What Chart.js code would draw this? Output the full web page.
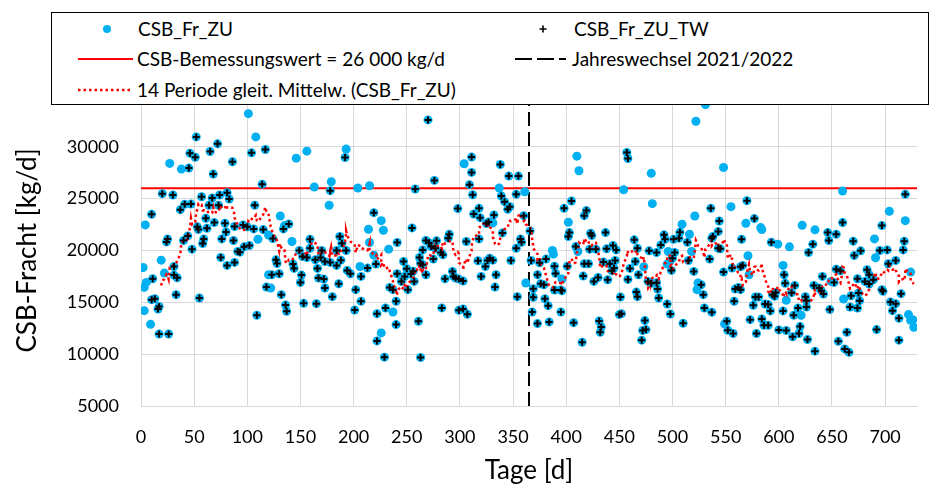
<!DOCTYPE html>
<html>
<head>
<meta charset="utf-8">
<script src="https://cdn.jsdelivr.net/npm/chart.js@4.4.1/dist/chart.umd.min.js"></script>
<style>
  html, body { margin: 0; padding: 0; background: #fff; }
  #wrap { position: relative; width: 936px; height: 493px; }
  #legend { position: absolute; left: 51px; top: 12px; width: 878px; height: 93px; box-sizing: border-box;
            border: 1px solid #000; background: #fff; font-family: Lato, sans-serif; font-size: 19px; color: #000; }
  .lg { position: absolute; white-space: nowrap; line-height: 22px; transform: translateY(-50%); }
  .sym { position: absolute; transform: translateY(-50%); }
</style>
</head>
<body>
<div id="wrap">
  <canvas id="chart" width="936" height="493"></canvas>
  <div id="legend">
    <svg class="sym" style="left:49px;top:16px" width="12" height="12"><circle cx="6" cy="6" r="4" fill="#00B0F0"/></svg>
    <span class="lg" style="left:86px;top:16px">CSB_Fr_ZU</span>
    <svg class="sym" style="left:486px;top:16px" width="10" height="10"><path d="M5 1.5V8.5M1.5 5H8.5" stroke="#000" stroke-width="1.6"/></svg>
    <span class="lg" style="left:522px;top:16px">CSB_Fr_ZU_TW</span>

    <svg class="sym" style="left:26px;top:46px" width="56" height="4"><line x1="0" y1="2" x2="55" y2="2" stroke="#ff0000" stroke-width="2"/></svg>
    <span class="lg" style="left:85px;top:46px">CSB-Bemessungswert = 26 000 kg/d</span>
    <svg class="sym" style="left:463px;top:46px" width="56" height="4"><line x1="0" y1="2" x2="54" y2="2" stroke="#000" stroke-width="2" stroke-dasharray="17 5 17 5 7"/></svg>
    <span class="lg" style="left:520px;top:46px">Jahreswechsel 2021/2022</span>

    <svg class="sym" style="left:26px;top:77px" width="56" height="4"><line x1="0" y1="2" x2="55" y2="2" stroke="#ff0000" stroke-width="2.5" stroke-dasharray="2.5 3"/></svg>
    <span class="lg" style="left:85px;top:77px">14 Periode gleit. Mittelw. (CSB_Fr_ZU)</span>
  </div>
</div>
<script>
// Tage, CSB-Fracht Zulauf [kg/d], Trockenwetter-Tag (1 = Teil von CSB_Fr_ZU_TW)
const tage = [
  101,108,117,104,114,52,72,65,46,51, 86,27,38,45,68,20,30,57,67,74, 81,83,41,47,37,64,73,107,10,4,
  61,69,79,53,54,62,88,96,100,106, 115,80,44,40,25,24,59,58,76,87, 110,102,97,91,93,48,75,88,81,19,
  2,31,22,31,34,11,5,3,118,120, 33,55,10,13,17,16,3,9,17,26, 109,120,
  146,156,193,192,163,179,178,177,204,215, 219,131,139,135,134,226,228,214,124,142,
  159,187,189,215,233,219,149,159,170,184, 193,127,128,152,156,164,169,173,178,184,
  188,143,144,166,206,194,197,207,213,221, 123,130,151,167,172,150,186,122,173,202,
  234,132,180,136,137,153,165,207,201,222, 230,237,226,222,229,241,241,237,240,240,
  270,304,311,311,276,309,312,258,338,346, 355,337,339,342,353,361,345,347,298,318,
  313,319,325,327,331,332,360,255,340,290, 289,268,278,271,273,277,265,282,284,306,
  318,357,358,353,262,263,247,250,248,254, 256,251,257,245,265,268,275,293,294,296,
  299,303,286,317,324,328,326,331,320,334, 333,348,354,362,283,299,303,307,261,263,
  366,410,412,457,458,480,454,481,405,398, 419,417,402,403,402,423,424,437,409,411,
  387,388,422,428,438,444,447,464,467,478, 485,367,375,381,389,401,417,421,435,441,
  446,445,443,439,430,426,416,465,473,460, 458,468,477,480,485,373,376,379,390,396,
  389,395,396,369,369,380,383,368,373,384, 395,407,415,431,433,432,451,450,452,466,
  467,474,475,472,471,
  531,522,548,570,555,536,521,509,577,569, 583,584,544,543,537,538,565,593,599,516,
  507,506,501,492,493,489,514,543,545,518, 515,502,500,496,498,499,520,535,548,556,
  564,566,571,572,559,562,564,524,527,523, 529,558,578,581,576,587,590,592,594,596,
  597,605,606,604,486,487,495,498,510,530, 537,549,551,552,557,573,584,586,590,579,
  600,607,495,604,
  660,719,704,719,660,697,622,634,646,654, 647,632,670,690,718,610,628,677,671,695,
  702,717,691,710,703,654,658,683,724,652, 641,638,640,642,633,615,612,668,661,675,
  676,667,674,674,681,685,689,697,698,715, 607,625,626,618,626,621,614,648,705,710,
  707,713,722,724,727,620,619,613,627,634, 656,664,662,666,692,713,649,685,726
];
const csbZU = [
  33200,30960,29740,29420,26400,30960,30290,29550,29390,29000, 28560,28400,27850,27950,27370,25480,25350,25190,25060,25350,
  25580,24970,24450,24480,23940,24360,24360,24360,23490,22470, 23110,22690,22630,22280,22020,22150,22310,22470,22280,22080,
  22020,21790,21410,20960,21120,20830,21120,20670,21120,20960, 21090,20480,20350,19900,19840,20130,19330,18850,18560,19070,
  18360,18460,17820,17630,17370,17280,16920,16440,16470,17660, 15740,15420,15260,15350,14610,14360,14200,12880,11950,11950,
  13750,21500,
  28910,29580,29780,28970,26120,26630,25770,24360,26030,26250, 23650,23330,22560,22400,22080,22880,21950,22050,21150,20870,
  21090,21350,20700,20770,20130,19550,20000,20220,20000,20000, 20000,19100,18750,19420,19330,19100,19330,18940,18850,18560,
  19070,18690,18270,18270,18460,18080,17760,17500,18300,18690, 17660,17760,17630,17340,17240,16920,16790,16380,16380,16220,
  16440,15740,15550,14740,14130,14900,14870,15100,14260,13910, 14450,14070,12050,11280,9710,20770,17760,16220,15100,12850,
  32600,28370,29010,27530,26760,26350,25380,25930,28300,27180, 27180,26030,25260,24710,25420,25670,23970,24230,24040,24070,
  23520,23170,22600,22760,22660,23430,23360,22180,21700,21570, 21190,20960,20930,20740,20380,20220,20060,19810,19580,20870,
  21120,21120,20800,20220,19330,18780,18940,18240,17500,17730, 18010,16220,17020,17020,18620,17660,19170,17980,17500,17340,
  17240,17050,17270,19010,18460,19260,19040,19070,17500,17660, 16470,19040,15550,16860,14460,14230,14360,13850,13170,9680,
  21890,29100,27690,29460,28880,27440,25860,24520,24780,24070, 23850,23360,22720,21730,21350,21670,21440,21730,20380,19900,
  20000,19650,20130,20130,20160,20480,20060,21030,20220,19970, 19810,19040,18810,19170,18490,18490,18720,18720,18880,18720,
  19040,18300,18040,17180,17400,17020,17530,18940,18430,18270, 17210,17660,17020,16830,16890,17660,16790,16700,17790,17240,
  16190,16190,16120,16310,15480,15350,14680,14070,12950,13110, 14070,13040,11150,13200,12620,12110,15510,13820,13910,15990,
  15550,13240,12370,12280,11350,
  34070,32470,28010,24810,24230,24070,23330,22530,23080,22630, 22210,22020,22850,21830,21190,21350,21090,20800,20610,21570,
  21760,21190,21090,21510,21090,20540,20800,20220,20160,19900, 19040,19810,19260,19900,19040,18080,17980,19170,17920,18300,
  18430,18560,19490,17660,16280,16440,16220,16860,16700,16220, 15740,15100,15510,15510,14710,14840,14780,14170,15740,15580,
  15960,17660,16830,14170,16280,15420,14840,13880,12980,14450, 14040,12920,13170,12310,11990,13330,13400,12790,12790,11990,
  12340,12280,18690,18560,
  25740,25420,23780,22880,22690,22400,22440,21990,21730,21570, 20960,20610,20900,21120,20900,20350,19810,19970,19520,20000,
  20060,20060,19300,19040,18720,18200,18040,18140,17920,16920, 17500,16380,16120,15800,16630,16630,15930,15640,15320,15900,
  15160,14550,14450,17270,17020,16760,17180,16220,16060,15840, 15190,15550,15160,14450,14550,13750,13750,14300,15030,14870,
  14200,13460,13820,13270,12600,12660,11990,11670,11410,10290, 11250,12110,10510,10190,12370,11350,17020,17660,13330
];
const trockenwetter = [
  0,0,1,1,1,1,1,1,1,1, 1,0,0,1,1,1,1,1,1,1, 1,1,1,1,1,1,1,1,1,0, 1,1,1,1,1,1,1,1,1,1,
  1,1,1,1,1,1,1,1,1,1, 0,1,1,1,1,1,1,1,1,0, 0,1,0,1,1,1,0,0,1,0, 1,1,1,1,1,1,0,0,1,1, 1,0,
  0,0,0,1,0,0,1,0,0,0, 1,0,1,0,1,0,0,0,1,0, 1,1,1,0,0,0,1,1,1,1, 1,1,1,1,1,1,1,1,1,1,
  1,1,1,1,0,1,1,1,1,1, 1,1,1,1,1,1,1,0,1,1, 1,1,1,1,1,1,1,1,1,1, 1,0,0,1,1,1,1,1,1,1,
  1,0,1,1,1,1,1,1,1,1, 1,0,1,1,1,0,1,1,1,1, 1,1,1,1,0,1,1,1,1,1, 1,1,1,1,1,1,1,1,1,1,
  1,1,1,1,1,1,1,1,1,1, 1,1,1,1,1,1,1,1,1,1, 1,1,1,1,1,1,1,1,1,1, 1,1,1,0,1,1,1,1,1,1,
  1,0,0,1,1,0,0,0,1,1, 1,1,0,1,1,1,1,1,1,0, 0,0,1,1,1,1,1,1,1,1, 1,1,1,1,1,1,1,1,1,1,
  1,1,1,1,1,1,1,1,0,1, 1,1,1,1,1,1,1,1,1,0, 1,1,1,1,1,1,1,1,1,1, 1,1,1,1,1,1,1,1,1,1,
  1,1,1,1,1,
  0,0,0,1,0,1,0,0,1,0, 0,0,1,1,1,1,1,1,0,0, 1,1,1,1,1,1,1,1,1,0, 1,1,1,0,0,1,1,1,1,1,
  1,1,0,0,1,1,1,0,1,0, 1,1,1,1,1,1,1,1,1,1, 1,1,1,1,1,1,1,1,1,1, 1,0,1,1,1,1,1,1,1,1,
  1,1,0,0,
  0,1,0,0,1,1,0,0,1,1, 1,1,1,0,1,0,1,1,1,1, 1,1,0,1,1,1,1,1,0,1, 1,1,1,1,1,1,1,1,0,1,
  1,1,1,1,1,1,1,1,1,1, 0,1,1,1,1,0,1,1,1,1, 1,1,0,0,0,1,1,1,1,1, 1,1,1,1,1,1,0,1,0
];
const bemessungswert = 26000;
const jahreswechsel = 365;
const xTicks = [0, 50, 100, 150, 200, 250, 300, 350, 400, 450, 500, 550, 600, 650, 700];
const yTicks = [5000, 10000, 15000, 20000, 25000, 30000, 35000];
const periode = 14;

// Punkte nach Tagen sortieren, gleitenden Mittelwert wie Excel (14 Perioden) bilden
const idx = tage.map((_, i) => i).sort((a, b) => tage[a] - tage[b]);
const zuPoints = idx.map(i => ({ x: tage[i], y: csbZU[i] }));
const twPoints = idx.filter(i => trockenwetter[i] === 1).map(i => ({ x: tage[i], y: csbZU[i] }));
const maPoints = [];
for (let k = periode - 1; k < zuPoints.length; k++) {
    let s = 0;
    for (let j = k - periode + 1; j <= k; j++) s += zuPoints[j].y;
    maPoints.push({ x: zuPoints[k].x, y: s / periode });
}

const font = { family: 'Lato', size: 18 };
const titleFont = { family: 'Lato', size: 26 };

new Chart(document.getElementById('chart'), {
    type: 'scatter',
    data: {
        datasets: [
            {
                label: 'CSB_Fr_ZU_TW',
                data: twPoints,
                pointStyle: 'cross',
                pointRadius: 3.5,
                borderColor: '#000',
                borderWidth: 2,
                order: 0,
            },
            {
                label: '14 Periode gleit. Mittelw. (CSB_Fr_ZU)',
                type: 'line',
                data: maPoints,
                showLine: true,
                pointRadius: 0,
                borderColor: '#ff0000',
                borderWidth: 2.5,
                borderDash: [2.5, 3],
                tension: 0,
                order: 1,
            },
            {
                label: 'CSB_Fr_ZU',
                data: zuPoints,
                pointStyle: 'circle',
                pointRadius: 4.5,
                backgroundColor: '#00B0F0',
                borderWidth: 0,
                order: 2,
            },
            {
                label: 'CSB-Bemessungswert = 26 000 kg/d',
                type: 'line',
                data: [{ x: 0, y: bemessungswert }, { x: 730, y: bemessungswert }],
                borderColor: '#ff0000',
                borderWidth: 2,
                pointRadius: 0,
                order: 3,
            },
            {
                label: 'Jahreswechsel 2021/2022',
                type: 'line',
                data: [{ x: jahreswechsel, y: 5000 }, { x: jahreswechsel, y: 35000 }],
                borderColor: '#000',
                borderWidth: 2,
                borderDash: [14, 6],
                pointRadius: 0,
                order: 4,
            },
        ],
    },
    options: {
        responsive: false,
        animation: false,
        layout: { padding: { top: 95, right: 19, left: 0, bottom: 0 } },
        plugins: {
            legend: { display: false },
            tooltip: { enabled: false },
        },
        scales: {
            x: {
                type: 'linear',
                min: 0,
                max: 730,
                afterBuildTicks: axis => { axis.ticks = xTicks.map(v => ({ value: v })); },
                afterFit: axis => { axis.height = 87; },
                ticks: { color: '#000', font: font, padding: 20, maxRotation: 0, autoSkip: false,
                         callback: v => String(v) },
                grid: { color: '#d9d9d9', drawTicks: false },
                border: { color: '#d9d9d9' },
                title: { display: true, text: 'Tage [d]', color: '#000', font: titleFont, padding: { bottom: 7 } },
            },
            y: {
                min: 5000,
                max: 35000,
                afterBuildTicks: axis => { axis.ticks = yTicks.map(v => ({ value: v })); },
                afterFit: axis => { axis.width = 141; },
                ticks: { color: '#000', font: font, padding: 22, callback: v => String(v) },
                grid: { color: '#d9d9d9', drawTicks: false },
                border: { color: '#d9d9d9' },
                title: { display: true, text: 'CSB-Fracht [kg/d]', color: '#000', font: titleFont, padding: { top: 12 } },
            },
        },
    },
});
</script>
</body>
</html>
